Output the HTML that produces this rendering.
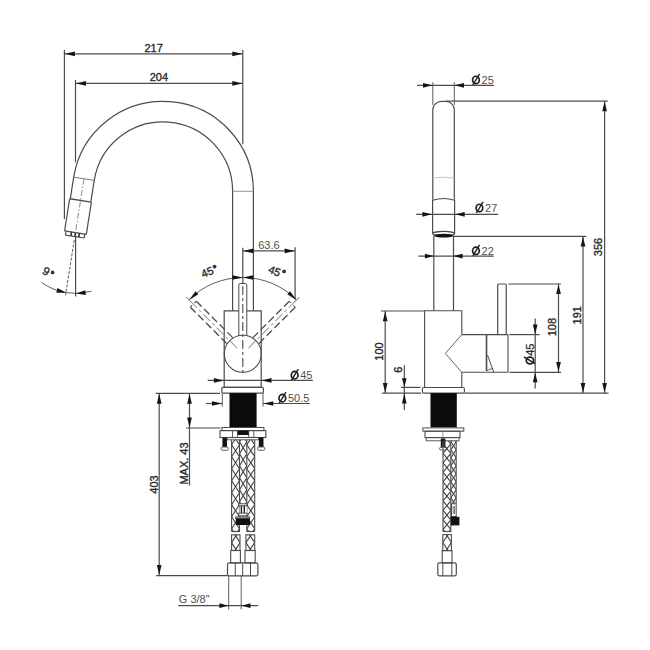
<!DOCTYPE html>
<html><head><meta charset="utf-8"><style>
html,body{margin:0;padding:0;background:#fff;}
svg{display:block;font-family:"Liberation Sans",sans-serif;}
</style></head><body>
<svg width="650" height="650" viewBox="0 0 650 650">
<rect width="650" height="650" fill="#fff"/>
<line x1="64.4" y1="50" x2="64.4" y2="219" stroke="#4c4c4c" stroke-width="1.2" />
<line x1="242.8" y1="50" x2="242.8" y2="144.2" stroke="#4c4c4c" stroke-width="1.2" />
<line x1="64.4" y1="53.8" x2="242.8" y2="53.8" stroke="#4c4c4c" stroke-width="1.2" />
<polygon points="64.9,53.8 74.9,51.45 74.9,56.15" fill="#161616" stroke="none" stroke-width="0"/>
<polygon points="242.3,53.8 232.3,56.15 232.3,51.45" fill="#161616" stroke="none" stroke-width="0"/>
<text x="153.6" y="52" font-size="11" text-anchor="middle" fill="#2a2a2a" stroke="#2a2a2a" stroke-width="0.35" >217</text>
<line x1="75.5" y1="80" x2="75.5" y2="162.3" stroke="#4c4c4c" stroke-width="1.2" />
<line x1="75.5" y1="83.4" x2="242.8" y2="83.4" stroke="#4c4c4c" stroke-width="1.2" />
<polygon points="76,83.4 86,81.05 86,85.75" fill="#161616" stroke="none" stroke-width="0"/>
<polygon points="242.3,83.4 232.3,85.75 232.3,81.05" fill="#161616" stroke="none" stroke-width="0"/>
<text x="158.9" y="81.3" font-size="11" text-anchor="middle" fill="#2a2a2a" stroke="#2a2a2a" stroke-width="0.35" >204</text>
<path d="M 253.4 311 L 253.4 191.2 A 90.4 89.8 0 0 0 73.71 177.15" stroke="#4c4c4c" stroke-width="1.2" fill="none" />
<path d="M 232.6 311 L 232.6 191.2 A 69.6 69.4 0 0 0 94.26 180.34" stroke="#4c4c4c" stroke-width="1.2" fill="none" />
<line x1="232.6" y1="191.3" x2="253.4" y2="191.3" stroke="#888" stroke-width="0.9" />
<g transform="translate(83.98 178.75) rotate(9)">
<line x1="-10.4" y1="0" x2="10.4" y2="0" stroke="#777" stroke-width="0.9" />
<line x1="-10.4" y1="0" x2="-10.4" y2="22" stroke="#4c4c4c" stroke-width="1.2" />
<line x1="10.4" y1="0" x2="10.4" y2="22" stroke="#4c4c4c" stroke-width="1.2" />
<line x1="-10.7" y1="22" x2="10.7" y2="22" stroke="#4c4c4c" stroke-width="1.4" />
<line x1="-11" y1="22" x2="-11" y2="54.5" stroke="#4c4c4c" stroke-width="1.2" />
<line x1="11" y1="22" x2="11" y2="54.5" stroke="#4c4c4c" stroke-width="1.2" />
<line x1="-11" y1="54.5" x2="11" y2="54.5" stroke="#4c4c4c" stroke-width="1.2" />
<line x1="-9.5" y1="54.5" x2="-9.5" y2="58.5" stroke="#4c4c4c" stroke-width="1.2" />
<line x1="9.5" y1="54.5" x2="9.5" y2="58.5" stroke="#4c4c4c" stroke-width="1.2" />
<line x1="-9.5" y1="58.5" x2="9.5" y2="58.5" stroke="#4c4c4c" stroke-width="1.2" />
<line x1="-4" y1="54.5" x2="-4" y2="58.5" stroke="#333" stroke-width="1.6" />
<line x1="0" y1="54.5" x2="0" y2="58.5" stroke="#333" stroke-width="1.6" />
<line x1="4" y1="54.5" x2="4" y2="58.5" stroke="#333" stroke-width="1.6" />
<line x1="0" y1="0" x2="0" y2="58.5" stroke="#777" stroke-width="0.8" stroke-dasharray="6 2 1.5 2"/>
<line x1="0" y1="62" x2="0" y2="118" stroke="#555" stroke-width="0.9" stroke-dasharray="3 1.5"/>
</g>
<line x1="75.6" y1="235.5" x2="75.6" y2="296.5" stroke="#4c4c4c" stroke-width="1.2" />
<path d="M 41.8 282.52 A 57.5 57.5 0 0 0 91.45 291.27" stroke="#4c4c4c" stroke-width="0.9" fill="none" />
<polygon points="66.41,292.76 56.31,292.65 57.45,288.09" fill="#161616" stroke="none" stroke-width="0"/>
<polygon points="75.6,293.5 85.38,290.29 85.79,294.97" fill="#161616" stroke="none" stroke-width="0"/>
<text x="46.2" y="275.24" font-size="11.5" text-anchor="middle" fill="#2a2a2a" stroke="#2a2a2a" stroke-width="0.35" transform="rotate(28 46.2 271.1)">9</text>
<circle cx="52.6" cy="272.4" r="1.9" fill="#333"/>
<line x1="295.1" y1="247.2" x2="295.1" y2="299.5" stroke="#4c4c4c" stroke-width="1.2" />
<line x1="242.8" y1="247.8" x2="242.8" y2="284" stroke="#4c4c4c" stroke-width="1.2" />
<line x1="242.8" y1="250.9" x2="295.1" y2="250.9" stroke="#4c4c4c" stroke-width="1.2" />
<polygon points="243.3,250.9 253.3,248.55 253.3,253.25" fill="#161616" stroke="none" stroke-width="0"/>
<polygon points="294.6,250.9 284.6,253.25 284.6,248.55" fill="#161616" stroke="none" stroke-width="0"/>
<text x="268.9" y="249.1" font-size="11" text-anchor="middle" fill="#505050" >63.6</text>
<path d="M 188.92 299.82 A 76.2 76.2 0 0 1 296.68 299.82" stroke="#4c4c4c" stroke-width="0.9" fill="none" />
<polygon points="242.8,277.5 232.4,279.8 232.4,275.2" fill="#161616" stroke="none" stroke-width="0"/>
<polygon points="242.8,277.5 253.2,275.2 253.2,279.8" fill="#161616" stroke="none" stroke-width="0"/>
<polygon points="189.22,300.12 195.5,291.32 198.38,294.37" fill="#161616" stroke="none" stroke-width="0"/>
<polygon points="296.38,300.12 287.22,294.37 290.1,291.32" fill="#161616" stroke="none" stroke-width="0"/>
<line x1="191.18" y1="302.08" x2="186.23" y2="297.13" stroke="#777" stroke-width="1.0" />
<line x1="294.42" y1="302.08" x2="299.37" y2="297.13" stroke="#777" stroke-width="1.0" />
<text x="207.2" y="276.06" font-size="11" text-anchor="middle" fill="#2a2a2a" stroke="#2a2a2a" stroke-width="0.35" transform="rotate(-22 207.2 272.1)">45</text>
<circle cx="214.6" cy="266.6" r="1.9" fill="#333"/>
<text x="274.6" y="274.76" font-size="11" text-anchor="middle" fill="#2a2a2a" stroke="#2a2a2a" stroke-width="0.35" transform="rotate(22 274.6 270.8)">45</text>
<circle cx="284.1" cy="271.4" r="1.9" fill="#333"/>
<path d="M 238.8 310.9 L 224.2 310.9 L 224.2 387.4 L 261.2 387.4 L 261.2 310.9 L 246.8 310.9" stroke="#4c4c4c" stroke-width="1.2" fill="none" />
<g transform="rotate(-45 242.8 353.7)">
<line x1="238.6" y1="283.7" x2="238.6" y2="337.7" stroke="#4c4c4c" stroke-width="1.3" stroke-dasharray="7.5 3.5"/>
<line x1="247" y1="283.7" x2="247" y2="337.7" stroke="#4c4c4c" stroke-width="1.3" stroke-dasharray="7.5 3.5"/>
<line x1="238.6" y1="283.7" x2="247" y2="283.7" stroke="#4c4c4c" stroke-width="1.0" stroke-dasharray="2.5 3.2 2.5"/>
<line x1="242.8" y1="345.7" x2="242.8" y2="274.7" stroke="#999" stroke-width="1.0" stroke-dasharray="10 3 3 3"/>
</g>
<g transform="rotate(45 242.8 353.7)">
<line x1="238.6" y1="283.7" x2="238.6" y2="337.7" stroke="#4c4c4c" stroke-width="1.3" stroke-dasharray="7.5 3.5"/>
<line x1="247" y1="283.7" x2="247" y2="337.7" stroke="#4c4c4c" stroke-width="1.3" stroke-dasharray="7.5 3.5"/>
<line x1="238.6" y1="283.7" x2="247" y2="283.7" stroke="#4c4c4c" stroke-width="1.0" stroke-dasharray="2.5 3.2 2.5"/>
<line x1="242.8" y1="345.7" x2="242.8" y2="274.7" stroke="#999" stroke-width="1.0" stroke-dasharray="10 3 3 3"/>
</g>
<circle cx="242.8" cy="353.7" r="18.5" stroke="#4c4c4c" stroke-width="1.1" fill="none"/>
<path d="M 238.8 335.6 L 238.8 285 Q 238.8 283.5 240.3 283.5 L 245.3 283.5 Q 246.8 283.5 246.8 285 L 246.8 335.6" stroke="#4c4c4c" stroke-width="1.0" fill="none" />
<line x1="242.8" y1="284" x2="242.8" y2="373" stroke="#484848" stroke-width="1.1" stroke-dasharray="9 3 3 3" stroke-dashoffset="-2"/>
<line x1="207.7" y1="380.4" x2="312.8" y2="380.4" stroke="#4c4c4c" stroke-width="1.2" />
<polygon points="223.9,380.4 213.9,382.75 213.9,378.05" fill="#161616" stroke="none" stroke-width="0"/>
<polygon points="261.5,380.4 271.5,378.05 271.5,382.75" fill="#161616" stroke="none" stroke-width="0"/>
<ellipse cx="294.63" cy="375.17" rx="3.34" ry="3.7" stroke="#1e1e1e" stroke-width="1.7" fill="none"/>
<line x1="291.54" y1="380.2" x2="298.26" y2="369.14" stroke="#1e1e1e" stroke-width="1.4" />
<text x="300.26" y="378.8" font-size="11" text-anchor="start" fill="#505050" >45</text>
<rect x="221.8" y="387.4" width="41.6" height="5.7" rx="1.2" stroke="#4c4c4c" stroke-width="1.2" fill="none"/>
<line x1="222.3" y1="393.1" x2="222.3" y2="406.5" stroke="#4c4c4c" stroke-width="0.9" />
<line x1="263" y1="393.1" x2="263" y2="406.5" stroke="#4c4c4c" stroke-width="0.9" />
<line x1="206" y1="403.5" x2="222.3" y2="403.5" stroke="#4c4c4c" stroke-width="1.2" />
<polygon points="222,403.5 212,405.85 212,401.15" fill="#161616" stroke="none" stroke-width="0"/>
<line x1="263" y1="403.5" x2="309.8" y2="403.5" stroke="#4c4c4c" stroke-width="1.2" />
<polygon points="263.3,403.5 273.3,401.15 273.3,405.85" fill="#161616" stroke="none" stroke-width="0"/>
<ellipse cx="282.33" cy="398.17" rx="3.34" ry="3.7" stroke="#1e1e1e" stroke-width="1.7" fill="none"/>
<line x1="279.24" y1="403.2" x2="285.96" y2="392.14" stroke="#1e1e1e" stroke-width="1.4" />
<text x="287.96" y="401.8" font-size="11" text-anchor="start" fill="#505050" >50.5</text>
<rect x="229.5" y="393.1" width="27.1" height="34.4" rx="0" stroke="#4c4c4c" stroke-width="0" fill="#0b0b0b"/>
<line x1="155.7" y1="393.3" x2="220" y2="393.3" stroke="#4c4c4c" stroke-width="1.2" />
<line x1="159.2" y1="393.3" x2="159.2" y2="575.5" stroke="#4c4c4c" stroke-width="1.2" />
<polygon points="159.2,393.8 161.55,403.8 156.85,403.8" fill="#161616" stroke="none" stroke-width="0"/>
<polygon points="159.2,575 156.85,565 161.55,565" fill="#161616" stroke="none" stroke-width="0"/>
<line x1="156.2" y1="575.6" x2="227.5" y2="575.6" stroke="#4c4c4c" stroke-width="1.2" />
<text x="157.8" y="484.5" font-size="11" text-anchor="middle" fill="#2a2a2a" stroke="#2a2a2a" stroke-width="0.35" transform="rotate(-90 157.8 484.5)" >403</text>
<line x1="189.5" y1="393.3" x2="189.5" y2="485.5" stroke="#4c4c4c" stroke-width="1.2" />
<polygon points="189.5,393.8 191.85,403.8 187.15,403.8" fill="#161616" stroke="none" stroke-width="0"/>
<polygon points="189.5,427.5 187.15,417.5 191.85,417.5" fill="#161616" stroke="none" stroke-width="0"/>
<line x1="186" y1="428" x2="220.5" y2="428" stroke="#4c4c4c" stroke-width="1.2" />
<text x="188.2" y="463.5" font-size="11" text-anchor="middle" fill="#2a2a2a" stroke="#2a2a2a" stroke-width="0.35" transform="rotate(-90 188.2 463.5)" >MAX. 43</text>
<rect x="221.9" y="427.5" width="42" height="3.1" rx="0" stroke="#4c4c4c" stroke-width="1.0" fill="none"/>
<rect x="220" y="430.6" width="45.8" height="6.9" rx="0" stroke="#4c4c4c" stroke-width="1.1" fill="none"/>
<line x1="232.5" y1="430.6" x2="232.5" y2="437.5" stroke="#4c4c4c" stroke-width="0.9" />
<line x1="237.6" y1="430.6" x2="237.6" y2="437.5" stroke="#4c4c4c" stroke-width="0.9" />
<line x1="248.7" y1="430.6" x2="248.7" y2="437.5" stroke="#4c4c4c" stroke-width="0.9" />
<line x1="253.8" y1="430.6" x2="253.8" y2="437.5" stroke="#4c4c4c" stroke-width="0.9" />
<rect x="237.6" y="430.6" width="11.1" height="4.4" rx="0" stroke="#4c4c4c" stroke-width="0" fill="#111"/>
<rect x="227" y="437.5" width="31.4" height="2.3" rx="0" stroke="#4c4c4c" stroke-width="0.9" fill="none"/>
<rect x="222.4" y="437.5" width="4.6" height="10" rx="0" stroke="#4c4c4c" stroke-width="0" fill="#151515"/>
<rect x="221.1" y="447" width="7.2" height="3.3" rx="1.5" stroke="#4c4c4c" stroke-width="0.9" fill="#fff"/>
<rect x="258.8" y="437.5" width="4.7" height="10" rx="0" stroke="#4c4c4c" stroke-width="0" fill="#151515"/>
<rect x="257.5" y="447" width="7.3" height="3.3" rx="1.5" stroke="#4c4c4c" stroke-width="0.9" fill="#fff"/>
<clipPath id="c110"><rect x="231.6" y="439.8" width="7.9" height="91.7"/></clipPath>
<g clip-path="url(#c110)">
<line x1="231.6" y1="420.7" x2="239.5" y2="432.7" stroke="#444" stroke-width="1.15"/>
<line x1="239.5" y1="420.7" x2="231.6" y2="432.7" stroke="#444" stroke-width="1.15"/>
<line x1="231.6" y1="432.7" x2="239.5" y2="444.7" stroke="#444" stroke-width="1.15"/>
<line x1="239.5" y1="432.7" x2="231.6" y2="444.7" stroke="#444" stroke-width="1.15"/>
<line x1="231.6" y1="444.7" x2="239.5" y2="456.7" stroke="#444" stroke-width="1.15"/>
<line x1="239.5" y1="444.7" x2="231.6" y2="456.7" stroke="#444" stroke-width="1.15"/>
<line x1="231.6" y1="456.7" x2="239.5" y2="468.7" stroke="#444" stroke-width="1.15"/>
<line x1="239.5" y1="456.7" x2="231.6" y2="468.7" stroke="#444" stroke-width="1.15"/>
<line x1="231.6" y1="468.7" x2="239.5" y2="480.7" stroke="#444" stroke-width="1.15"/>
<line x1="239.5" y1="468.7" x2="231.6" y2="480.7" stroke="#444" stroke-width="1.15"/>
<line x1="231.6" y1="480.7" x2="239.5" y2="492.7" stroke="#444" stroke-width="1.15"/>
<line x1="239.5" y1="480.7" x2="231.6" y2="492.7" stroke="#444" stroke-width="1.15"/>
<line x1="231.6" y1="492.7" x2="239.5" y2="504.7" stroke="#444" stroke-width="1.15"/>
<line x1="239.5" y1="492.7" x2="231.6" y2="504.7" stroke="#444" stroke-width="1.15"/>
<line x1="231.6" y1="504.7" x2="239.5" y2="516.7" stroke="#444" stroke-width="1.15"/>
<line x1="239.5" y1="504.7" x2="231.6" y2="516.7" stroke="#444" stroke-width="1.15"/>
<line x1="231.6" y1="516.7" x2="239.5" y2="528.7" stroke="#444" stroke-width="1.15"/>
<line x1="239.5" y1="516.7" x2="231.6" y2="528.7" stroke="#444" stroke-width="1.15"/>
<line x1="231.6" y1="528.7" x2="239.5" y2="540.7" stroke="#444" stroke-width="1.15"/>
<line x1="239.5" y1="528.7" x2="231.6" y2="540.7" stroke="#444" stroke-width="1.15"/>
<line x1="231.6" y1="540.7" x2="239.5" y2="552.7" stroke="#444" stroke-width="1.15"/>
<line x1="239.5" y1="540.7" x2="231.6" y2="552.7" stroke="#444" stroke-width="1.15"/>
<line x1="231.6" y1="552.7" x2="239.5" y2="564.7" stroke="#444" stroke-width="1.15"/>
<line x1="239.5" y1="552.7" x2="231.6" y2="564.7" stroke="#444" stroke-width="1.15"/>
</g>
<clipPath id="c137"><rect x="239.5" y="439.8" width="7.3" height="64.2"/></clipPath>
<g clip-path="url(#c137)">
<line x1="239.5" y1="417.8" x2="246.8" y2="429.8" stroke="#444" stroke-width="1.15"/>
<line x1="246.8" y1="417.8" x2="239.5" y2="429.8" stroke="#444" stroke-width="1.15"/>
<line x1="239.5" y1="429.8" x2="246.8" y2="441.8" stroke="#444" stroke-width="1.15"/>
<line x1="246.8" y1="429.8" x2="239.5" y2="441.8" stroke="#444" stroke-width="1.15"/>
<line x1="239.5" y1="441.8" x2="246.8" y2="453.8" stroke="#444" stroke-width="1.15"/>
<line x1="246.8" y1="441.8" x2="239.5" y2="453.8" stroke="#444" stroke-width="1.15"/>
<line x1="239.5" y1="453.8" x2="246.8" y2="465.8" stroke="#444" stroke-width="1.15"/>
<line x1="246.8" y1="453.8" x2="239.5" y2="465.8" stroke="#444" stroke-width="1.15"/>
<line x1="239.5" y1="465.8" x2="246.8" y2="477.8" stroke="#444" stroke-width="1.15"/>
<line x1="246.8" y1="465.8" x2="239.5" y2="477.8" stroke="#444" stroke-width="1.15"/>
<line x1="239.5" y1="477.8" x2="246.8" y2="489.8" stroke="#444" stroke-width="1.15"/>
<line x1="246.8" y1="477.8" x2="239.5" y2="489.8" stroke="#444" stroke-width="1.15"/>
<line x1="239.5" y1="489.8" x2="246.8" y2="501.8" stroke="#444" stroke-width="1.15"/>
<line x1="246.8" y1="489.8" x2="239.5" y2="501.8" stroke="#444" stroke-width="1.15"/>
<line x1="239.5" y1="501.8" x2="246.8" y2="513.8" stroke="#444" stroke-width="1.15"/>
<line x1="246.8" y1="501.8" x2="239.5" y2="513.8" stroke="#444" stroke-width="1.15"/>
<line x1="239.5" y1="513.8" x2="246.8" y2="525.8" stroke="#444" stroke-width="1.15"/>
<line x1="246.8" y1="513.8" x2="239.5" y2="525.8" stroke="#444" stroke-width="1.15"/>
<line x1="239.5" y1="525.8" x2="246.8" y2="537.8" stroke="#444" stroke-width="1.15"/>
<line x1="246.8" y1="525.8" x2="239.5" y2="537.8" stroke="#444" stroke-width="1.15"/>
</g>
<clipPath id="c160"><rect x="246.8" y="439.8" width="7.9" height="91.7"/></clipPath>
<g clip-path="url(#c160)">
<line x1="246.8" y1="420.7" x2="254.7" y2="432.7" stroke="#444" stroke-width="1.15"/>
<line x1="254.7" y1="420.7" x2="246.8" y2="432.7" stroke="#444" stroke-width="1.15"/>
<line x1="246.8" y1="432.7" x2="254.7" y2="444.7" stroke="#444" stroke-width="1.15"/>
<line x1="254.7" y1="432.7" x2="246.8" y2="444.7" stroke="#444" stroke-width="1.15"/>
<line x1="246.8" y1="444.7" x2="254.7" y2="456.7" stroke="#444" stroke-width="1.15"/>
<line x1="254.7" y1="444.7" x2="246.8" y2="456.7" stroke="#444" stroke-width="1.15"/>
<line x1="246.8" y1="456.7" x2="254.7" y2="468.7" stroke="#444" stroke-width="1.15"/>
<line x1="254.7" y1="456.7" x2="246.8" y2="468.7" stroke="#444" stroke-width="1.15"/>
<line x1="246.8" y1="468.7" x2="254.7" y2="480.7" stroke="#444" stroke-width="1.15"/>
<line x1="254.7" y1="468.7" x2="246.8" y2="480.7" stroke="#444" stroke-width="1.15"/>
<line x1="246.8" y1="480.7" x2="254.7" y2="492.7" stroke="#444" stroke-width="1.15"/>
<line x1="254.7" y1="480.7" x2="246.8" y2="492.7" stroke="#444" stroke-width="1.15"/>
<line x1="246.8" y1="492.7" x2="254.7" y2="504.7" stroke="#444" stroke-width="1.15"/>
<line x1="254.7" y1="492.7" x2="246.8" y2="504.7" stroke="#444" stroke-width="1.15"/>
<line x1="246.8" y1="504.7" x2="254.7" y2="516.7" stroke="#444" stroke-width="1.15"/>
<line x1="254.7" y1="504.7" x2="246.8" y2="516.7" stroke="#444" stroke-width="1.15"/>
<line x1="246.8" y1="516.7" x2="254.7" y2="528.7" stroke="#444" stroke-width="1.15"/>
<line x1="254.7" y1="516.7" x2="246.8" y2="528.7" stroke="#444" stroke-width="1.15"/>
<line x1="246.8" y1="528.7" x2="254.7" y2="540.7" stroke="#444" stroke-width="1.15"/>
<line x1="254.7" y1="528.7" x2="246.8" y2="540.7" stroke="#444" stroke-width="1.15"/>
<line x1="246.8" y1="540.7" x2="254.7" y2="552.7" stroke="#444" stroke-width="1.15"/>
<line x1="254.7" y1="540.7" x2="246.8" y2="552.7" stroke="#444" stroke-width="1.15"/>
<line x1="246.8" y1="552.7" x2="254.7" y2="564.7" stroke="#444" stroke-width="1.15"/>
<line x1="254.7" y1="552.7" x2="246.8" y2="564.7" stroke="#444" stroke-width="1.15"/>
</g>
<line x1="231.6" y1="439.8" x2="231.6" y2="531.5" stroke="#4c4c4c" stroke-width="1.1" />
<line x1="239.5" y1="439.8" x2="239.5" y2="531.5" stroke="#4c4c4c" stroke-width="1.1" />
<line x1="246.8" y1="439.8" x2="246.8" y2="531.5" stroke="#4c4c4c" stroke-width="1.1" />
<line x1="254.7" y1="439.8" x2="254.7" y2="531.5" stroke="#4c4c4c" stroke-width="1.1" />
<rect x="239.5" y="503.8" width="7.3" height="12.7" rx="0" stroke="#4c4c4c" stroke-width="0" fill="#fff"/>
<rect x="238.8" y="503.8" width="8.1" height="2" rx="0" stroke="#4c4c4c" stroke-width="1.0" fill="#fff"/>
<line x1="241.4" y1="505.8" x2="241.4" y2="513.2" stroke="#222" stroke-width="1.4" />
<line x1="244.3" y1="505.8" x2="244.3" y2="513.2" stroke="#222" stroke-width="1.4" />
<rect x="238.8" y="513.2" width="8.1" height="2.6" rx="0" stroke="#4c4c4c" stroke-width="1.0" fill="#fff"/>
<rect x="235.6" y="516.8" width="14.2" height="1.8" rx="0" stroke="#4c4c4c" stroke-width="0.8" fill="#999"/>
<rect x="235.8" y="518.6" width="14.2" height="6.4" rx="0" stroke="#4c4c4c" stroke-width="0" fill="#111"/>
<line x1="231.6" y1="531.5" x2="240" y2="531.5" stroke="#4c4c4c" stroke-width="1.2" />
<line x1="246.5" y1="531.5" x2="254.7" y2="531.5" stroke="#4c4c4c" stroke-width="1.2" />
<clipPath id="c200"><rect x="231.6" y="534.8" width="8.4" height="15.7"/></clipPath>
<g clip-path="url(#c200)">
<line x1="231.6" y1="516.05" x2="240" y2="529.35" stroke="#444" stroke-width="1.15"/>
<line x1="240" y1="516.05" x2="231.6" y2="529.35" stroke="#444" stroke-width="1.15"/>
<line x1="231.6" y1="529.35" x2="240" y2="542.65" stroke="#444" stroke-width="1.15"/>
<line x1="240" y1="529.35" x2="231.6" y2="542.65" stroke="#444" stroke-width="1.15"/>
<line x1="231.6" y1="542.65" x2="240" y2="555.95" stroke="#444" stroke-width="1.15"/>
<line x1="240" y1="542.65" x2="231.6" y2="555.95" stroke="#444" stroke-width="1.15"/>
<line x1="231.6" y1="555.95" x2="240" y2="569.25" stroke="#444" stroke-width="1.15"/>
<line x1="240" y1="555.95" x2="231.6" y2="569.25" stroke="#444" stroke-width="1.15"/>
<line x1="231.6" y1="569.25" x2="240" y2="582.55" stroke="#444" stroke-width="1.15"/>
<line x1="240" y1="569.25" x2="231.6" y2="582.55" stroke="#444" stroke-width="1.15"/>
</g>
<rect x="231.6" y="534.8" width="8.4" height="15.7" rx="0" stroke="#4c4c4c" stroke-width="1.1" fill="none"/>
<rect x="230.7" y="550.5" width="9.7" height="12.4" rx="0" stroke="#4c4c4c" stroke-width="1.1" fill="none"/>
<clipPath id="c215"><rect x="245.9" y="534.8" width="8.8" height="15.7"/></clipPath>
<g clip-path="url(#c215)">
<line x1="245.9" y1="516.05" x2="254.7" y2="529.35" stroke="#444" stroke-width="1.15"/>
<line x1="254.7" y1="516.05" x2="245.9" y2="529.35" stroke="#444" stroke-width="1.15"/>
<line x1="245.9" y1="529.35" x2="254.7" y2="542.65" stroke="#444" stroke-width="1.15"/>
<line x1="254.7" y1="529.35" x2="245.9" y2="542.65" stroke="#444" stroke-width="1.15"/>
<line x1="245.9" y1="542.65" x2="254.7" y2="555.95" stroke="#444" stroke-width="1.15"/>
<line x1="254.7" y1="542.65" x2="245.9" y2="555.95" stroke="#444" stroke-width="1.15"/>
<line x1="245.9" y1="555.95" x2="254.7" y2="569.25" stroke="#444" stroke-width="1.15"/>
<line x1="254.7" y1="555.95" x2="245.9" y2="569.25" stroke="#444" stroke-width="1.15"/>
<line x1="245.9" y1="569.25" x2="254.7" y2="582.55" stroke="#444" stroke-width="1.15"/>
<line x1="254.7" y1="569.25" x2="245.9" y2="582.55" stroke="#444" stroke-width="1.15"/>
</g>
<rect x="245.9" y="534.8" width="8.8" height="15.7" rx="0" stroke="#4c4c4c" stroke-width="1.1" fill="none"/>
<rect x="245" y="550.5" width="10.2" height="12.4" rx="0" stroke="#4c4c4c" stroke-width="1.1" fill="none"/>
<rect x="227.5" y="562.9" width="30.4" height="12.9" rx="1.5" stroke="#4c4c4c" stroke-width="1.2" fill="none"/>
<line x1="235.3" y1="562.9" x2="235.3" y2="575.8" stroke="#4c4c4c" stroke-width="1.0" />
<line x1="242.7" y1="562.9" x2="242.7" y2="575.8" stroke="#4c4c4c" stroke-width="1.0" />
<line x1="250.5" y1="562.9" x2="250.5" y2="575.8" stroke="#4c4c4c" stroke-width="1.0" />
<line x1="228.7" y1="575.8" x2="228.7" y2="609.4" stroke="#4c4c4c" stroke-width="0.9" />
<line x1="241.2" y1="575.8" x2="241.2" y2="609.4" stroke="#4c4c4c" stroke-width="0.9" />
<line x1="178.3" y1="605.7" x2="258" y2="605.7" stroke="#4c4c4c" stroke-width="1.2" />
<polygon points="228.4,605.7 219.4,608.05 219.4,603.35" fill="#161616" stroke="none" stroke-width="0"/>
<polygon points="241.5,605.7 250.5,603.35 250.5,608.05" fill="#161616" stroke="none" stroke-width="0"/>
<text x="178.8" y="603.2" font-size="11" text-anchor="start" fill="#505050" >G 3/8"</text>
<path d="M 432.8 199.8 L 432.8 110 A 8.7 8.7 0 0 1 441.5 101.3 L 445.6 101.3 A 8.7 8.7 0 0 1 454.3 110 L 454.3 199.8" stroke="#4c4c4c" stroke-width="1.2" fill="none" />
<path d="M 432.8 178 Q 443.5 176.5 454.3 178" stroke="#bbb" stroke-width="0.9" fill="none" />
<path d="M 432.6 233.4 L 432.6 200.2 Q 443.6 196.8 454.6 200.2 L 454.6 233.4" stroke="#4c4c4c" stroke-width="1.2" fill="none" />
<ellipse cx="443.6" cy="233.7" rx="10.9" ry="2.3" fill="none" stroke="#444" stroke-width="1.2"/>
<ellipse cx="443.8" cy="235.7" rx="9.5" ry="1.9" fill="#111"/>
<line x1="433.8" y1="236" x2="433.8" y2="310.8" stroke="#4c4c4c" stroke-width="1.2" />
<line x1="453.5" y1="236" x2="453.5" y2="310.8" stroke="#4c4c4c" stroke-width="1.2" />
<path d="M 461.8 334.6 L 461.8 310.8 L 424.6 310.8 L 424.6 387.5 L 461.8 387.5 L 461.8 372.3" stroke="#4c4c4c" stroke-width="1.1" fill="none" />
<line x1="461.8" y1="334.6" x2="508" y2="334.6" stroke="#4c4c4c" stroke-width="1.1" />
<line x1="461.8" y1="372.3" x2="508" y2="372.3" stroke="#4c4c4c" stroke-width="1.1" />
<path d="M 461.8 334.6 L 445.4 353.4 L 461.8 372.3" stroke="#666" stroke-width="1.0" fill="none" />
<line x1="508" y1="334.6" x2="508" y2="372.3" stroke="#4c4c4c" stroke-width="1.1" />
<line x1="486.5" y1="334.6" x2="486.5" y2="371" stroke="#4c4c4c" stroke-width="1.6" />
<path d="M 487.5 355 L 493.8 372.3" stroke="#4c4c4c" stroke-width="1.0" fill="none" />
<path d="M 486.5 371 Q 489 369 493 368.5" stroke="#4c4c4c" stroke-width="0.9" fill="none" />
<path d="M 497.7 334.6 L 497.7 285 Q 497.7 284 498.7 284 L 505.2 284 Q 506.2 284 506.2 285 L 506.2 334.6" stroke="#4c4c4c" stroke-width="1.2" fill="none" />
<rect x="422.4" y="387.5" width="42" height="5.6" rx="1.3" stroke="#4c4c4c" stroke-width="1.1" fill="none"/>
<rect x="430.5" y="393.1" width="26.3" height="34.3" rx="0" stroke="#4c4c4c" stroke-width="0" fill="#0b0b0b"/>
<rect x="422.9" y="427.9" width="40.9" height="3.3" rx="0" stroke="#4c4c4c" stroke-width="1.0" fill="none"/>
<rect x="425" y="431.2" width="35" height="6.4" rx="0" stroke="#4c4c4c" stroke-width="1.1" fill="none"/>
<line x1="442.8" y1="431.2" x2="442.8" y2="437.6" stroke="#888" stroke-width="0.8" />
<rect x="426.2" y="437.6" width="32.8" height="3.2" rx="0" stroke="#4c4c4c" stroke-width="0.9" fill="none"/>
<rect x="440.8" y="438.5" width="4.6" height="9.5" rx="0" stroke="#4c4c4c" stroke-width="0" fill="#151515"/>
<rect x="439.6" y="447.2" width="7" height="2.8" rx="1.3" stroke="#4c4c4c" stroke-width="0.9" fill="#fff"/>
<clipPath id="c264"><rect x="443" y="440.8" width="7.8" height="90.7"/></clipPath>
<g clip-path="url(#c264)">
<line x1="443" y1="424.8" x2="450.8" y2="434.3" stroke="#444" stroke-width="1.15"/>
<line x1="450.8" y1="424.8" x2="443" y2="434.3" stroke="#444" stroke-width="1.15"/>
<line x1="443" y1="434.3" x2="450.8" y2="443.8" stroke="#444" stroke-width="1.15"/>
<line x1="450.8" y1="434.3" x2="443" y2="443.8" stroke="#444" stroke-width="1.15"/>
<line x1="443" y1="443.8" x2="450.8" y2="453.3" stroke="#444" stroke-width="1.15"/>
<line x1="450.8" y1="443.8" x2="443" y2="453.3" stroke="#444" stroke-width="1.15"/>
<line x1="443" y1="453.3" x2="450.8" y2="462.8" stroke="#444" stroke-width="1.15"/>
<line x1="450.8" y1="453.3" x2="443" y2="462.8" stroke="#444" stroke-width="1.15"/>
<line x1="443" y1="462.8" x2="450.8" y2="472.3" stroke="#444" stroke-width="1.15"/>
<line x1="450.8" y1="462.8" x2="443" y2="472.3" stroke="#444" stroke-width="1.15"/>
<line x1="443" y1="472.3" x2="450.8" y2="481.8" stroke="#444" stroke-width="1.15"/>
<line x1="450.8" y1="472.3" x2="443" y2="481.8" stroke="#444" stroke-width="1.15"/>
<line x1="443" y1="481.8" x2="450.8" y2="491.3" stroke="#444" stroke-width="1.15"/>
<line x1="450.8" y1="481.8" x2="443" y2="491.3" stroke="#444" stroke-width="1.15"/>
<line x1="443" y1="491.3" x2="450.8" y2="500.8" stroke="#444" stroke-width="1.15"/>
<line x1="450.8" y1="491.3" x2="443" y2="500.8" stroke="#444" stroke-width="1.15"/>
<line x1="443" y1="500.8" x2="450.8" y2="510.3" stroke="#444" stroke-width="1.15"/>
<line x1="450.8" y1="500.8" x2="443" y2="510.3" stroke="#444" stroke-width="1.15"/>
<line x1="443" y1="510.3" x2="450.8" y2="519.8" stroke="#444" stroke-width="1.15"/>
<line x1="450.8" y1="510.3" x2="443" y2="519.8" stroke="#444" stroke-width="1.15"/>
<line x1="443" y1="519.8" x2="450.8" y2="529.3" stroke="#444" stroke-width="1.15"/>
<line x1="450.8" y1="519.8" x2="443" y2="529.3" stroke="#444" stroke-width="1.15"/>
<line x1="443" y1="529.3" x2="450.8" y2="538.8" stroke="#444" stroke-width="1.15"/>
<line x1="450.8" y1="529.3" x2="443" y2="538.8" stroke="#444" stroke-width="1.15"/>
<line x1="443" y1="538.8" x2="450.8" y2="548.3" stroke="#444" stroke-width="1.15"/>
<line x1="450.8" y1="538.8" x2="443" y2="548.3" stroke="#444" stroke-width="1.15"/>
<line x1="443" y1="548.3" x2="450.8" y2="557.8" stroke="#444" stroke-width="1.15"/>
<line x1="450.8" y1="548.3" x2="443" y2="557.8" stroke="#444" stroke-width="1.15"/>
</g>
<clipPath id="c295"><rect x="450.8" y="440.8" width="5.4" height="63"/></clipPath>
<g clip-path="url(#c295)">
<line x1="450.8" y1="425.8" x2="456.2" y2="433.8" stroke="#444" stroke-width="1.15"/>
<line x1="456.2" y1="425.8" x2="450.8" y2="433.8" stroke="#444" stroke-width="1.15"/>
<line x1="450.8" y1="433.8" x2="456.2" y2="441.8" stroke="#444" stroke-width="1.15"/>
<line x1="456.2" y1="433.8" x2="450.8" y2="441.8" stroke="#444" stroke-width="1.15"/>
<line x1="450.8" y1="441.8" x2="456.2" y2="449.8" stroke="#444" stroke-width="1.15"/>
<line x1="456.2" y1="441.8" x2="450.8" y2="449.8" stroke="#444" stroke-width="1.15"/>
<line x1="450.8" y1="449.8" x2="456.2" y2="457.8" stroke="#444" stroke-width="1.15"/>
<line x1="456.2" y1="449.8" x2="450.8" y2="457.8" stroke="#444" stroke-width="1.15"/>
<line x1="450.8" y1="457.8" x2="456.2" y2="465.8" stroke="#444" stroke-width="1.15"/>
<line x1="456.2" y1="457.8" x2="450.8" y2="465.8" stroke="#444" stroke-width="1.15"/>
<line x1="450.8" y1="465.8" x2="456.2" y2="473.8" stroke="#444" stroke-width="1.15"/>
<line x1="456.2" y1="465.8" x2="450.8" y2="473.8" stroke="#444" stroke-width="1.15"/>
<line x1="450.8" y1="473.8" x2="456.2" y2="481.8" stroke="#444" stroke-width="1.15"/>
<line x1="456.2" y1="473.8" x2="450.8" y2="481.8" stroke="#444" stroke-width="1.15"/>
<line x1="450.8" y1="481.8" x2="456.2" y2="489.8" stroke="#444" stroke-width="1.15"/>
<line x1="456.2" y1="481.8" x2="450.8" y2="489.8" stroke="#444" stroke-width="1.15"/>
<line x1="450.8" y1="489.8" x2="456.2" y2="497.8" stroke="#444" stroke-width="1.15"/>
<line x1="456.2" y1="489.8" x2="450.8" y2="497.8" stroke="#444" stroke-width="1.15"/>
<line x1="450.8" y1="497.8" x2="456.2" y2="505.8" stroke="#444" stroke-width="1.15"/>
<line x1="456.2" y1="497.8" x2="450.8" y2="505.8" stroke="#444" stroke-width="1.15"/>
<line x1="450.8" y1="505.8" x2="456.2" y2="513.8" stroke="#444" stroke-width="1.15"/>
<line x1="456.2" y1="505.8" x2="450.8" y2="513.8" stroke="#444" stroke-width="1.15"/>
<line x1="450.8" y1="513.8" x2="456.2" y2="521.8" stroke="#444" stroke-width="1.15"/>
<line x1="456.2" y1="513.8" x2="450.8" y2="521.8" stroke="#444" stroke-width="1.15"/>
</g>
<line x1="443" y1="440.8" x2="443" y2="531.5" stroke="#4c4c4c" stroke-width="1.1" />
<line x1="450.8" y1="440.8" x2="450.8" y2="531.5" stroke="#4c4c4c" stroke-width="1.1" />
<line x1="456.2" y1="440.8" x2="456.2" y2="503.8" stroke="#4c4c4c" stroke-width="1.1" />
<line x1="443" y1="531.5" x2="451.4" y2="531.5" stroke="#4c4c4c" stroke-width="1.2" />
<rect x="451.5" y="503.8" width="4.7" height="12.7" rx="0" stroke="#4c4c4c" stroke-width="1.0" fill="#fff"/>
<line x1="453.2" y1="506" x2="453.2" y2="514" stroke="#4c4c4c" stroke-width="0.8" />
<line x1="454.6" y1="506" x2="454.6" y2="514" stroke="#4c4c4c" stroke-width="0.8" />
<rect x="450.8" y="516.8" width="8.6" height="8.6" rx="0" stroke="#4c4c4c" stroke-width="0" fill="#111"/>
<clipPath id="c330"><rect x="442.8" y="534.6" width="8.6" height="16"/></clipPath>
<g clip-path="url(#c330)">
<line x1="442.8" y1="515.85" x2="451.4" y2="529.15" stroke="#444" stroke-width="1.15"/>
<line x1="451.4" y1="515.85" x2="442.8" y2="529.15" stroke="#444" stroke-width="1.15"/>
<line x1="442.8" y1="529.15" x2="451.4" y2="542.45" stroke="#444" stroke-width="1.15"/>
<line x1="451.4" y1="529.15" x2="442.8" y2="542.45" stroke="#444" stroke-width="1.15"/>
<line x1="442.8" y1="542.45" x2="451.4" y2="555.75" stroke="#444" stroke-width="1.15"/>
<line x1="451.4" y1="542.45" x2="442.8" y2="555.75" stroke="#444" stroke-width="1.15"/>
<line x1="442.8" y1="555.75" x2="451.4" y2="569.05" stroke="#444" stroke-width="1.15"/>
<line x1="451.4" y1="555.75" x2="442.8" y2="569.05" stroke="#444" stroke-width="1.15"/>
<line x1="442.8" y1="569.05" x2="451.4" y2="582.35" stroke="#444" stroke-width="1.15"/>
<line x1="451.4" y1="569.05" x2="442.8" y2="582.35" stroke="#444" stroke-width="1.15"/>
</g>
<rect x="442.8" y="534.6" width="8.6" height="16" rx="0" stroke="#4c4c4c" stroke-width="1.1" fill="none"/>
<rect x="442.2" y="550.6" width="9.8" height="12.3" rx="0" stroke="#4c4c4c" stroke-width="1.1" fill="none"/>
<rect x="437.8" y="562.9" width="18.5" height="12.9" rx="1.5" stroke="#4c4c4c" stroke-width="1.2" fill="none"/>
<line x1="442.8" y1="562.9" x2="442.8" y2="575.8" stroke="#4c4c4c" stroke-width="1.0" />
<line x1="451.8" y1="562.9" x2="451.8" y2="575.8" stroke="#4c4c4c" stroke-width="1.0" />
<line x1="432.8" y1="82.2" x2="432.8" y2="105" stroke="#4c4c4c" stroke-width="0.9" />
<line x1="454.3" y1="82.2" x2="454.3" y2="105" stroke="#4c4c4c" stroke-width="0.9" />
<line x1="417" y1="85.3" x2="493.8" y2="85.3" stroke="#4c4c4c" stroke-width="1.2" />
<polygon points="432.5,85.3 423,87.65 423,82.95" fill="#161616" stroke="none" stroke-width="0"/>
<polygon points="454.6,85.3 464,82.95 464,87.65" fill="#161616" stroke="none" stroke-width="0"/>
<ellipse cx="475.93" cy="79.97" rx="3.34" ry="3.7" stroke="#1e1e1e" stroke-width="1.7" fill="none"/>
<line x1="472.84" y1="85" x2="479.56" y2="73.94" stroke="#1e1e1e" stroke-width="1.4" />
<text x="481.56" y="83.6" font-size="11" text-anchor="start" fill="#505050" >25</text>
<line x1="416.2" y1="214.3" x2="498" y2="214.3" stroke="#4c4c4c" stroke-width="1.2" />
<polygon points="431.9,214.3 422.4,216.65 422.4,211.95" fill="#161616" stroke="none" stroke-width="0"/>
<polygon points="455.3,214.3 464.7,211.95 464.7,216.65" fill="#161616" stroke="none" stroke-width="0"/>
<ellipse cx="479.43" cy="207.97" rx="3.34" ry="3.7" stroke="#1e1e1e" stroke-width="1.7" fill="none"/>
<line x1="476.34" y1="213" x2="483.06" y2="201.94" stroke="#1e1e1e" stroke-width="1.4" />
<text x="485.06" y="211.6" font-size="11" text-anchor="start" fill="#505050" >27</text>
<line x1="418.3" y1="256.1" x2="493.8" y2="256.1" stroke="#4c4c4c" stroke-width="1.2" />
<polygon points="433.9,256.1 424.9,258.45 424.9,253.75" fill="#161616" stroke="none" stroke-width="0"/>
<polygon points="453.2,256.1 462.6,253.75 462.6,258.45" fill="#161616" stroke="none" stroke-width="0"/>
<ellipse cx="475.93" cy="250.87" rx="3.34" ry="3.7" stroke="#1e1e1e" stroke-width="1.7" fill="none"/>
<line x1="472.84" y1="255.9" x2="479.56" y2="244.84" stroke="#1e1e1e" stroke-width="1.4" />
<text x="481.56" y="254.5" font-size="11" text-anchor="start" fill="#505050" >22</text>
<line x1="446" y1="101.2" x2="607.7" y2="101.2" stroke="#4c4c4c" stroke-width="1.2" />
<line x1="604.6" y1="100.9" x2="604.6" y2="393.2" stroke="#4c4c4c" stroke-width="1.2" />
<polygon points="604.6,101.4 606.95,111.2 602.25,111.2" fill="#161616" stroke="none" stroke-width="0"/>
<polygon points="604.6,392.7 602.25,383 606.95,383" fill="#161616" stroke="none" stroke-width="0"/>
<text x="602.4" y="247" font-size="11" text-anchor="middle" fill="#2a2a2a" stroke="#2a2a2a" stroke-width="0.35" transform="rotate(-90 602.4 247)" >356</text>
<line x1="453.8" y1="236.3" x2="586.2" y2="236.3" stroke="#4c4c4c" stroke-width="1.2" />
<line x1="583" y1="236.3" x2="583" y2="393.2" stroke="#4c4c4c" stroke-width="1.2" />
<polygon points="583,236.8 585.35,246.6 580.65,246.6" fill="#161616" stroke="none" stroke-width="0"/>
<polygon points="583,392.7 580.65,383 585.35,383" fill="#161616" stroke="none" stroke-width="0"/>
<text x="580.8" y="315.3" font-size="11" text-anchor="middle" fill="#2a2a2a" stroke="#2a2a2a" stroke-width="0.35" transform="rotate(-90 580.8 315.3)" >191</text>
<line x1="382" y1="393.1" x2="421" y2="393.1" stroke="#4c4c4c" stroke-width="1.2" />
<line x1="464.4" y1="393.1" x2="608.5" y2="393.1" stroke="#4c4c4c" stroke-width="1.2" />
<line x1="381" y1="311" x2="424.6" y2="311" stroke="#4c4c4c" stroke-width="1.2" />
<line x1="385.2" y1="311" x2="385.2" y2="393" stroke="#4c4c4c" stroke-width="1.2" />
<polygon points="385.2,311.5 387.55,321.3 382.85,321.3" fill="#161616" stroke="none" stroke-width="0"/>
<polygon points="385.2,392.5 382.85,383.1 387.55,383.1" fill="#161616" stroke="none" stroke-width="0"/>
<text x="383.3" y="351.5" font-size="11" text-anchor="middle" fill="#2a2a2a" stroke="#2a2a2a" stroke-width="0.35" transform="rotate(-90 383.3 351.5)" >100</text>
<line x1="401" y1="387.4" x2="420.5" y2="387.4" stroke="#4c4c4c" stroke-width="1.2" />
<line x1="404.3" y1="365.3" x2="404.3" y2="410" stroke="#4c4c4c" stroke-width="1.2" />
<polygon points="404.3,387 401.95,378.2 406.65,378.2" fill="#161616" stroke="none" stroke-width="0"/>
<polygon points="404.3,393.4 406.65,403.5 401.95,403.5" fill="#161616" stroke="none" stroke-width="0"/>
<text x="402" y="369.6" font-size="11" text-anchor="middle" fill="#2a2a2a" stroke="#2a2a2a" stroke-width="0.35" transform="rotate(-90 402 369.6)" >6</text>
<line x1="508.3" y1="284" x2="561" y2="284" stroke="#4c4c4c" stroke-width="1.2" />
<line x1="558.5" y1="284" x2="558.5" y2="372.3" stroke="#4c4c4c" stroke-width="1.2" />
<polygon points="558.5,284.5 560.85,294 556.15,294" fill="#161616" stroke="none" stroke-width="0"/>
<polygon points="558.5,371.8 556.15,362 560.85,362" fill="#161616" stroke="none" stroke-width="0"/>
<text x="556" y="327.1" font-size="11" text-anchor="middle" fill="#2a2a2a" stroke="#2a2a2a" stroke-width="0.35" transform="rotate(-90 556 327.1)" >108</text>
<line x1="509.4" y1="334.6" x2="539.5" y2="334.6" stroke="#4c4c4c" stroke-width="1.2" />
<line x1="509.4" y1="372.3" x2="561" y2="372.3" stroke="#4c4c4c" stroke-width="1.2" />
<line x1="535.2" y1="318.5" x2="535.2" y2="388.5" stroke="#4c4c4c" stroke-width="1.2" />
<polygon points="535.2,334.2 532.85,324.6 537.55,324.6" fill="#161616" stroke="none" stroke-width="0"/>
<polygon points="535.2,372.7 537.55,382.3 532.85,382.3" fill="#161616" stroke="none" stroke-width="0"/>
<g transform="rotate(-90 533.6 364.6)">
<ellipse cx="537.73" cy="360.97" rx="3.34" ry="3.7" stroke="#1e1e1e" stroke-width="1.7" fill="none"/>
<line x1="534.64" y1="366" x2="541.36" y2="354.94" stroke="#1e1e1e" stroke-width="1.4" />
<text x="542.36" y="364.6" font-size="11" fill="#2a2a2a" stroke="#2a2a2a" stroke-width="0.3">45</text>
</g>
</svg></body></html>
